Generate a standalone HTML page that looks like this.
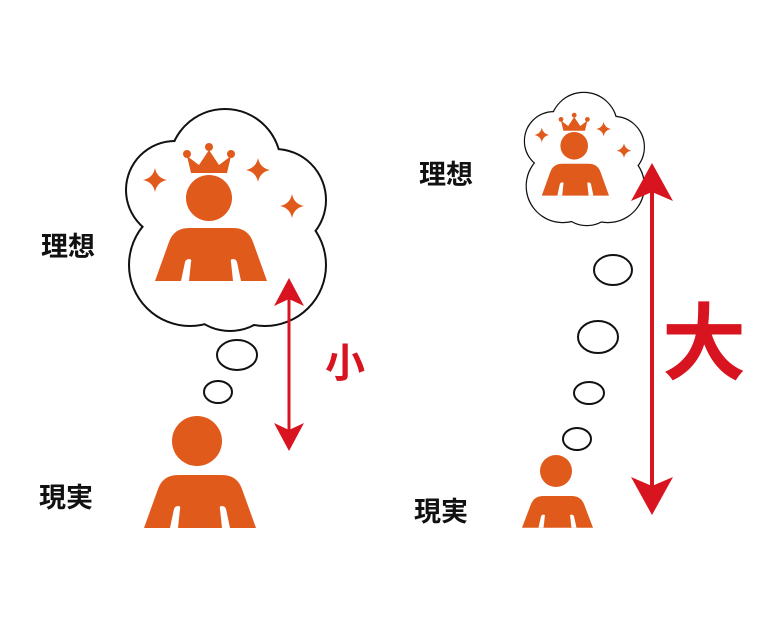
<!DOCTYPE html>
<html><head><meta charset="utf-8"><style>
html,body{margin:0;padding:0;background:#fff;}
svg{display:block;}
text{font-family:"Liberation Sans","Noto Sans CJK JP",sans-serif;font-weight:bold;}
</style></head><body>
<svg width="771" height="642" viewBox="0 0 771 642" xmlns="http://www.w3.org/2000/svg">
<defs>
  <g id="cloudShape">
    <circle cx="98" cy="55" r="55"/>
    <circle cx="48" cy="80" r="48"/>
    <circle cx="148" cy="90" r="50"/>
    <circle cx="63" cy="155" r="60"/>
    <circle cx="138" cy="155" r="60"/>
    <circle cx="103" cy="170" r="50"/>
  </g>
  <g id="body">
    <path d="M0,53 L14,14 Q19,0 34,0 L78,0 Q93,0 98,14 L112,53 Z" fill="#e05a1c"/>
    <path d="M26,53 L30,34 Q31,31 34,31 Q37,31 36,34 L34,53 Z" fill="#fff"/>
    <path d="M86,53 L82,34 Q81,31 78,31 Q75,31 76,34 L78,53 Z" fill="#fff"/>
  </g>
  <path id="star" d="M0,-12 Q2,-2 12,0 Q2,2 0,12 Q-2,2 -12,0 Q-2,-2 0,-12 Z" fill="#e05a1c"/>
  <g id="cloud">
    <use href="#cloudShape" fill="#fff" stroke="#111" stroke-width="4"/>
    <use href="#cloudShape" fill="#fff"/>
    <circle cx="82" cy="88" r="23" fill="#e05a1c"/>
    <path d="M64,63 L60,46 L72,55 L82,40 L92,55 L104,46 L100,63 Z" fill="#e05a1c"/>
    <circle cx="60" cy="44" r="4" fill="#e05a1c"/>
    <circle cx="82" cy="37" r="4" fill="#e05a1c"/>
    <circle cx="104" cy="44" r="4" fill="#e05a1c"/>
    <use href="#body" transform="translate(28,118)"/>
    <use href="#star" transform="translate(28,70)"/>
    <use href="#star" transform="translate(131,60)"/>
    <use href="#star" transform="translate(165,96)"/>
  </g>
</defs>

<use href="#cloud" transform="translate(127,110)"/>
<ellipse cx="237" cy="355" rx="20" ry="15" fill="#fff" stroke="#111" stroke-width="2"/>
<ellipse cx="218" cy="392" rx="14" ry="11" fill="#fff" stroke="#111" stroke-width="2"/>
<circle cx="197" cy="441" r="25" fill="#e05a1c"/>
<use href="#body" transform="translate(144,475)"/>
<line x1="289" y1="296" x2="289" y2="434" stroke="#d7141f" stroke-width="3"/>
<path d="M289,278 L304,306 L289,299 L274,306 Z" fill="#d7141f"/>
<path d="M289,451 L304,423 L289,430 L274,423 Z" fill="#d7141f"/>
<text x="345" y="377" font-size="40" fill="#d7141f" text-anchor="middle">小</text>
<text x="41" y="256" font-size="27" fill="#111">理想</text>
<text x="39" y="507" font-size="27" fill="#111">現実</text>

<use href="#cloud" transform="translate(525,93) scale(0.6)"/>
<ellipse cx="613" cy="270" rx="19" ry="15" fill="#fff" stroke="#111" stroke-width="2"/>
<ellipse cx="598" cy="337" rx="20" ry="16" fill="#fff" stroke="#111" stroke-width="2"/>
<ellipse cx="589" cy="393" rx="15" ry="11" fill="#fff" stroke="#111" stroke-width="2"/>
<ellipse cx="577" cy="439" rx="14" ry="11" fill="#fff" stroke="#111" stroke-width="2"/>
<circle cx="556" cy="471" r="16" fill="#e05a1c"/>
<use href="#body" transform="translate(522,496) scale(0.634,0.6)"/>
<line x1="652" y1="190" x2="652" y2="490" stroke="#d7141f" stroke-width="4"/>
<path d="M652,163 L673,201 L652,192 L631,201 Z" fill="#d7141f"/>
<path d="M652,515 L673,477 L652,486 L631,477 Z" fill="#d7141f"/>
<text x="704" y="373" font-size="84" fill="#d7141f" text-anchor="middle">大</text>
<text x="419" y="184" font-size="27" fill="#111">理想</text>
<text x="414" y="521" font-size="27" fill="#111">現実</text>
</svg>
</body></html>
